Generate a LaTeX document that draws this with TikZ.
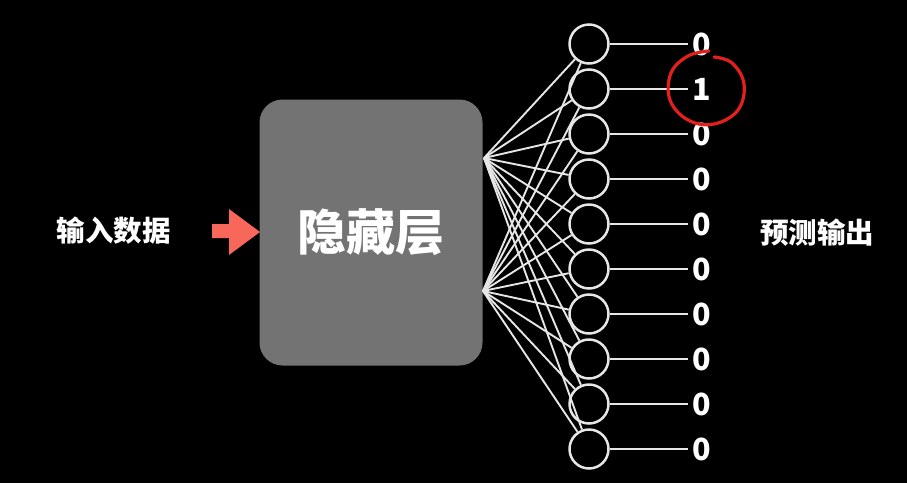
\documentclass[tikz,border=0pt]{standalone}
\usepackage{fontspec}
\setmainfont{Noto Sans CJK SC}
\definecolor{boxgray}{HTML}{737373}
\definecolor{salmon}{HTML}{F8685A}
\definecolor{markred}{HTML}{E3201B}
\definecolor{linegray}{HTML}{E6E6E6}
\begin{document}
\begin{tikzpicture}[x=1pt,y=-1pt,
  neuron/.style={circle, draw=linegray, line width=2.5pt, minimum size=39pt, inner sep=0pt},
  hidden/.style={rectangle, rounded corners=23pt, fill=boxgray, minimum width=223pt, minimum height=266pt, text=white, font=\bfseries\fontsize{49}{52}\selectfont},
  sidelabel/.style={text=white, inner sep=0pt, font=\bfseries\fontsize{28.5}{31}\selectfont},
  digit/.style={text=white, inner sep=0pt, font=\bfseries\fontsize{30.5}{32}\selectfont},
  fan/.style={draw=linegray, line width=1.9pt},
  outline/.style={draw=linegray, line width=2.4pt, shorten >=5pt}
]
\fill[black] (0,0) rectangle (907,483);
\useasboundingbox (0,0) rectangle (907,483);

\node[sidelabel] (in) at (113.5,231) {输入数据};
\node[sidelabel] (out) at (817,233) {预测输出};
\node[hidden] (h) at (371,232.5) {隐藏层};

% input arrow
\fill[salmon] (212,224) -- (229,224) -- (229,209) -- (260,232) -- (229,255) -- (229,238) -- (212,238) -- cycle;

\coordinate (t) at (484,158);
\coordinate (b) at (483,291);

\foreach \i in {0,...,9} {
  \node[neuron] (n\i) at (589,{44+45*\i}) {};
  \node[digit] (d\i) at (702,{44+45*\i}) {\ifnum\i=1 1\else 0\fi};
}
\foreach \i in {0,...,9} {
  \draw[fan] (t) -- (n\i);
  \draw[fan] (b) -- (n\i);
  \draw[outline] (n\i.east) -- (d\i.west);
}

% red hand-drawn circle
\draw[markred, line width=3.2pt, line cap=round] plot[smooth, tension=0.65] coordinates {
  (714,57) (732,63) (744,84) (738,110) (714,124) (688,120) (670,100) (671,73) (688,56) (709,51)};
\end{tikzpicture}
\end{document}
